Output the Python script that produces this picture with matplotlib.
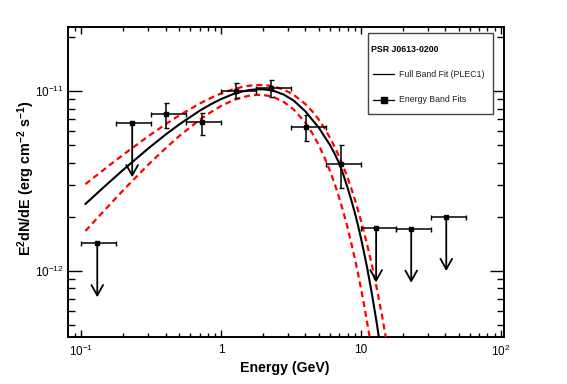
import matplotlib
matplotlib.use('Agg')
import matplotlib.pyplot as plt
from matplotlib.ticker import FixedLocator, FixedFormatter, LogLocator, NullFormatter
from matplotlib.patches import Rectangle
from matplotlib.lines import Line2D

plt.rcParams['font.family'] = ['Liberation Sans', 'DejaVu Sans']
plt.rcParams['mathtext.fontset'] = 'custom'
plt.rcParams['mathtext.rm'] = 'Liberation Sans'
plt.rcParams['mathtext.it'] = 'Liberation Sans:italic'
plt.rcParams['mathtext.bf'] = 'Liberation Sans:bold'

# ---------------- data ----------------
# energy band fits: detections
det_E = [0.405, 0.73, 1.28, 2.28, 4.05, 7.2]
det_Elo = [0.316, 0.562, 1.0, 1.78, 3.16, 5.62]
det_Ehi = [0.562, 1.0, 1.78, 3.16, 5.62, 10.0]
det_F = [7.45e-12, 6.7e-12, 1.0e-11, 1.035e-11, 6.34e-12, 3.95e-12]
det_Flo = [6.23e-12, 5.7e-12, 9.2e-12, 9.3e-12, 5.3e-12, 2.9e-12]
det_Fhi = [8.57e-12, 7.55e-12, 1.11e-11, 1.15e-11, 7.35e-12, 5.0e-12]

# energy band fits: upper limits
ul_E = [0.13, 0.231, 12.8, 22.8, 40.6]
ul_Elo = [0.1, 0.178, 10.0, 17.8, 31.6]
ul_Ehi = [0.178, 0.316, 17.8, 31.6, 56.2]
ul_F = [1.43e-12, 6.64e-12, 1.73e-12, 1.72e-12, 2.0e-12]

# full band fit (PLEC1) curve
fit_E = [0.107, 0.15, 0.2, 0.3, 0.4, 0.5, 0.7, 0.85, 1.0, 1.2, 1.4, 1.6, 1.8, 2.0,
         2.2, 2.4, 2.8, 3.3, 4.0, 4.5, 5.0, 5.5, 6.0, 6.5, 7.0, 7.5, 8.0, 8.5,
         9.0, 9.5, 10.0, 11.0, 12.0, 13.0, 14.0, 15.0]
fit_F = [2.36e-12, 3.00e-12, 3.66e-12, 4.79e-12, 5.73e-12, 6.52e-12, 7.77e-12,
         8.48e-12, 9.03e-12, 9.58e-12, 9.93e-12, 1.014e-11, 1.023e-11, 1.023e-11,
         1.014e-11, 9.99e-12, 9.56e-12, 8.85e-12, 7.71e-12, 6.89e-12, 6.24e-12,
         5.55e-12, 5.01e-12, 4.45e-12, 3.94e-12, 3.39e-12, 2.90e-12, 2.48e-12,
         2.12e-12, 1.79e-12, 1.51e-12, 1.06e-12, 7.30e-13, 5.00e-13, 3.41e-13, 2.40e-13]

# 1-sigma band, upper edge
band_hi_E = [0.107, 0.15, 0.2, 0.3, 0.4, 0.5, 0.7, 0.85, 1.0, 1.2, 1.4, 1.6, 1.8,
             2.0, 2.2, 2.4, 2.8, 3.3, 4.0, 4.5, 5.0, 5.5, 6.0, 6.5, 7.0, 7.5, 8.0,
             8.5, 9.0, 9.5, 10.0, 11.0, 12.0, 13.0, 14.0, 15.0, 16.0]
band_hi_F = [3.04e-12, 3.74e-12, 4.44e-12, 5.60e-12, 6.54e-12, 7.32e-12, 8.52e-12,
             9.19e-12, 9.70e-12, 1.020e-11, 1.053e-11, 1.072e-11, 1.080e-11,
             1.080e-11, 1.072e-11, 1.058e-11, 1.019e-11, 9.53e-12, 8.46e-12,
             7.68e-12, 6.91e-12, 6.18e-12, 5.49e-12, 4.86e-12, 4.28e-12, 3.76e-12,
             3.30e-12, 2.88e-12, 2.51e-12, 2.18e-12, 1.89e-12, 1.42e-12, 1.06e-12,
             7.87e-13, 5.83e-13, 4.30e-13, 3.16e-13]

# 1-sigma band, lower edge
band_lo_E = [0.107, 0.15, 0.2, 0.3, 0.4, 0.5, 0.7, 0.85, 1.0, 1.2, 1.4, 1.6, 1.8,
             2.0, 2.2, 2.4, 2.8, 3.3, 4.0, 4.5, 5.0, 5.5, 6.0, 6.5, 7.0, 7.5, 8.0,
             8.5, 9.0, 9.5, 10.0, 10.5, 11.0, 11.5, 12.0]
band_lo_F = [1.67e-12, 2.22e-12, 2.82e-12, 3.89e-12, 4.81e-12, 5.62e-12, 6.92e-12,
             7.67e-12, 8.27e-12, 8.85e-12, 9.22e-12, 9.44e-12, 9.53e-12, 9.50e-12,
             9.39e-12, 9.21e-12, 8.70e-12, 7.89e-12, 6.66e-12, 5.79e-12, 4.98e-12,
             4.24e-12, 3.59e-12, 3.02e-12, 2.52e-12, 2.10e-12, 1.74e-12, 1.43e-12,
             1.18e-12, 9.68e-13, 7.93e-13, 6.47e-13, 5.27e-13, 4.29e-13, 3.48e-13]

x_ticks = [0.1, 1, 10, 100]
x_ticklabels = ['$10^{-1}$', '1', '10', '$10^{2}$']
y_ticks = [1e-12, 1e-11]
y_ticklabels = ['$10^{-12}$', '$10^{-11}$']

# ---------------- figure ----------------
fig = plt.figure(figsize=(5.67, 3.84), dpi=100)
ax = fig.add_axes([68 / 567, 47 / 384, 436 / 567, 310 / 384])
ax.set_xscale('log')
ax.set_yscale('log')
ax.set_xlim(0.0803, 105)
ax.set_ylim(4.30e-13, 2.27e-11)

ax.plot(fit_E, fit_F, color='black', lw=1.5, zorder=3)
ax.plot(band_hi_E, band_hi_F, color='#ff0000', lw=1.6, dashes=(2.7, 1.8), zorder=4)
ax.plot(band_lo_E, band_lo_F, color='#ff0000', lw=1.6, dashes=(2.7, 1.8), zorder=4)

xerr = [[e - lo for e, lo in zip(det_E, det_Elo)], [hi - e for e, hi in zip(det_E, det_Ehi)]]
yerr = [[f - lo for f, lo in zip(det_F, det_Flo)], [hi - f for f, hi in zip(det_F, det_Fhi)]]
ax.errorbar(det_E, det_F, xerr=xerr, yerr=yerr, fmt='s', ms=2.6, color='black',
            ecolor='black', elinewidth=1.1, capsize=1.8, capthick=1.0, zorder=5)

uxerr = [[e - lo for e, lo in zip(ul_E, ul_Elo)], [hi - e for e, hi in zip(ul_E, ul_Ehi)]]
ax.errorbar(ul_E, ul_F, xerr=uxerr, fmt='s', ms=2.6, color='black',
            ecolor='black', elinewidth=1.1, capsize=1.8, capthick=1.0, zorder=5)
for e, f in zip(ul_E, ul_F):
    ax.annotate('', xy=(e, f * 0.5), xytext=(e, f),
                arrowprops=dict(arrowstyle='->,head_length=0.75,head_width=0.42',
                                color='black', lw=1.3, shrinkA=0, shrinkB=0,
                                mutation_scale=10), zorder=5)

# axes styling
for s in ax.spines.values():
    s.set_linewidth(1.4)
ax.xaxis.set_major_locator(FixedLocator(x_ticks))
ax.xaxis.set_major_formatter(FixedFormatter(x_ticklabels))
ax.xaxis.set_minor_locator(LogLocator(base=10, subs=range(2, 10), numticks=20))
ax.xaxis.set_minor_formatter(NullFormatter())
ax.yaxis.set_major_locator(FixedLocator(y_ticks))
ax.yaxis.set_major_formatter(FixedFormatter(y_ticklabels))
ax.yaxis.set_minor_locator(LogLocator(base=10, subs=range(2, 10), numticks=20))
ax.yaxis.set_minor_formatter(NullFormatter())
ax.tick_params(which='both', direction='in', top=True, right=True, width=1.0,
               labelsize=8.5)
ax.tick_params(axis='x', which='major', length=5, pad=5)
ax.tick_params(axis='x', which='minor', length=3)
ax.tick_params(axis='y', which='major', length=10, pad=3)
ax.tick_params(axis='y', which='minor', length=5)

ax.set_xlabel('Energy (GeV)', fontsize=10.2, fontweight='bold')
ax.xaxis.set_label_coords(0.498, -0.078)
ax.set_ylabel(r'$\mathbf{E^{2}dN/dE\ (erg\ cm^{-2}\ s^{-1})}$', fontsize=10.4)
ax.yaxis.set_label_coords(-0.07, 0.513)

# legend box
ax.add_patch(Rectangle((0.688, 0.719), 0.287, 0.262, transform=ax.transAxes,
                       facecolor='white', edgecolor='#444444', lw=1.0, zorder=6))
ax.text(0.695, 0.929, 'PSR J0613-0200', transform=ax.transAxes, fontsize=6.3,
        fontweight='bold', ha='left', va='center', zorder=7)
ax.add_line(Line2D([0.699, 0.748], [0.847, 0.847], transform=ax.transAxes,
                   color='black', lw=0.9, zorder=7))
ax.text(0.760, 0.847, 'Full Band Fit (PLEC1)', transform=ax.transAxes, fontsize=6.3,
        ha='left', va='center', zorder=7, color='#222222')
ax.add_line(Line2D([0.699, 0.748], [0.765, 0.765], transform=ax.transAxes,
                   color='black', lw=0.9, zorder=7))
ax.add_line(Line2D([0.725], [0.765], transform=ax.transAxes, marker='s', ms=4,
                   color='black', zorder=8))
ax.text(0.760, 0.765, 'Energy Band Fits', transform=ax.transAxes, fontsize=6.3,
        ha='left', va='center', zorder=7, color='#222222')

fig.savefig('out.png', dpi=100)
